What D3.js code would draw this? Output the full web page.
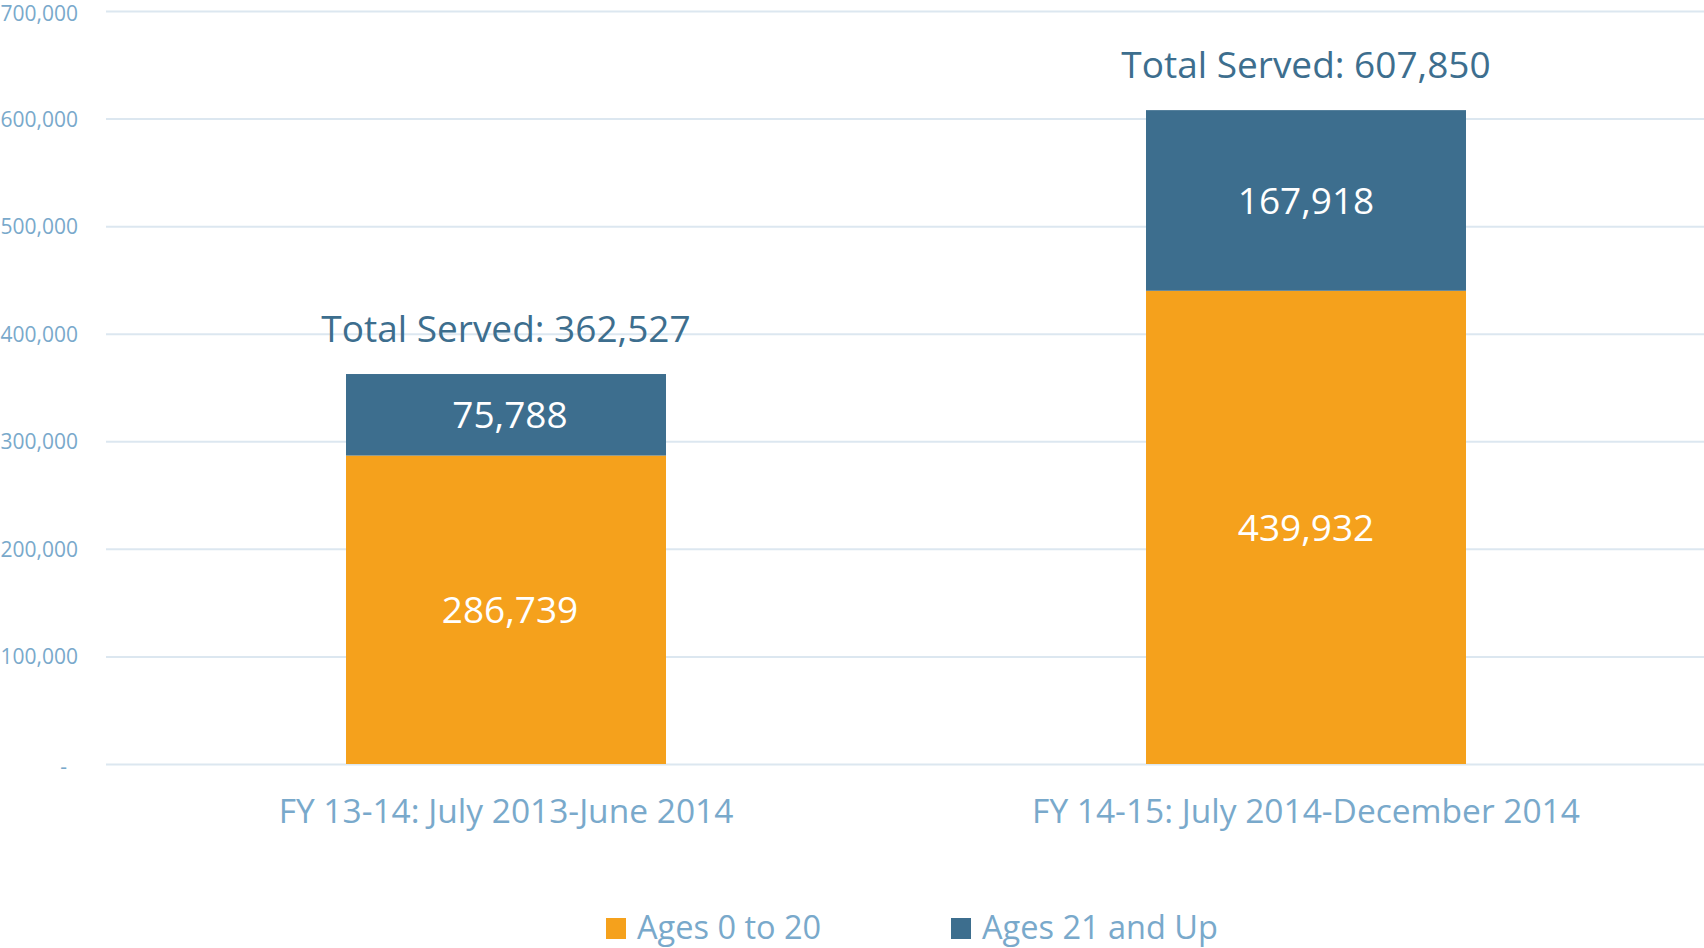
<!DOCTYPE html>
<html>
<head>
<meta charset="utf-8">
<script src="https://cdn.jsdelivr.net/npm/d3@7"></script>
<style>
  html, body { margin: 0; padding: 0; background: #fff; }
  svg { display: block; font-family: "Open Sans", sans-serif; }
</style>
</head>
<body>
<div class="container"></div>
<script>
'use strict';

// Chart values
const periods = ["FY 13-14: July 2013-June 2014", "FY 14-15: July 2014-December 2014"];
const seriesNames = ["Ages 0 to 20", "Ages 21 and Up"];
const youth = [286739, 439932];
const adults = [75788, 167918];
const totals = [362527, 607850];
const yTicks = [0, 100000, 200000, 300000, 400000, 500000, 600000, 700000];

const colors = ["#F5A11C", "#3D6E8E"];
const lightBlue = "#79A9CB";

const width = 1704;
const height = 948;

const svg = d3.select("div.container").append("svg")
    .attr("width", width)
    .attr("height", height);

// Scales
const x = d3.scaleBand()
    .domain(periods)
    .range([106, 1706])
    .paddingInner(0.6)
    .paddingOuter(0.3);

const y = d3.scaleLinear()
    .domain([0, 700000])
    .range([764, 11]);

// Y axis with gridlines
const yAxis = svg.append("g")
    .attr("transform", "translate(106,0)")
    .call(d3.axisLeft(y)
        .tickValues(yTicks)
        .tickSize(-(width - 106))
        .tickPadding(28)
        .tickFormat(d => d === 0 ? "-" : d3.format(",")(d)));

yAxis.select(".domain").remove();
yAxis.selectAll(".tick line")
    .attr("stroke", "#DCE7F0")
    .attr("stroke-width", 2);
yAxis.selectAll(".tick text")
    .attr("fill", lightBlue)
    .attr("dy", "0.36em")
    .style("font-size", "21px")
    .style("font-family", "'Open Sans', sans-serif");
// the top label would poke out of the picture, nudge it down a little
yAxis.selectAll(".tick text").filter(d => d === 700000)
    .attr("dy", "0.45em");
// the zero label is a dash, sitting a bit further left
yAxis.selectAll(".tick text").filter(d => d === 0)
    .attr("dx", "-11px")
    .attr("dy", "0.45em");

// Stack the two series
const rows = periods.map((p, i) => ({ period: p, youth: youth[i], adults: adults[i], total: totals[i] }));
const stack = d3.stack().keys(["youth", "adults"]);
const layers = stack(rows);

const layerG = svg.selectAll("g.layer")
    .data(layers)
    .enter()
    .append("g")
    .attr("class", "layer")
    .attr("fill", (d, i) => colors[i]);

layerG.selectAll("rect")
    .data(d => d)
    .enter()
    .append("rect")
    .attr("x", d => x(d.data.period))
    .attr("width", x.bandwidth())
    .attr("y", d => y(d[1]))
    .attr("height", d => y(d[0]) - y(d[1]));

// Value labels inside segments
layerG.selectAll("text")
    .data(d => d)
    .enter()
    .append("text")
    .attr("x", d => x(d.data.period) + x.bandwidth() / 2)
    .attr("y", d => (y(d[0]) + y(d[1])) / 2)
    .attr("dx", (d, i) => i === 0 ? 4 : 0)
    .attr("dy", "0.36em")
    .attr("text-anchor", "middle")
    .attr("fill", "#fff")
    .style("font-size", "37px")
    .text(d => d3.format(",")(d[1] - d[0]));

// Totals above the bars
svg.selectAll("text.total")
    .data(rows)
    .enter()
    .append("text")
    .attr("class", "total")
    .attr("x", d => x(d.period) + x.bandwidth() / 2)
    .attr("y", d => y(d.total) - 32)
    .attr("text-anchor", "middle")
    .attr("fill", "#3D6E8E")
    .style("font-size", "37px")
    .text(d => "Total Served: " + d3.format(",")(d.total));

// Category labels
svg.selectAll("text.cat")
    .data(periods)
    .enter()
    .append("text")
    .attr("class", "cat")
    .attr("x", d => x(d) + x.bandwidth() / 2)
    .attr("y", 823)
    .attr("text-anchor", "middle")
    .attr("fill", lightBlue)
    .style("font-size", "33.5px")
    .text(d => d);

// Legend
const legendX = [606, 951];
const legend = svg.selectAll("g.legend")
    .data(seriesNames)
    .enter()
    .append("g")
    .attr("class", "legend")
    .attr("transform", (d, i) => "translate(" + legendX[i] + ",918)");

legend.append("rect")
    .attr("width", 20)
    .attr("height", 21)
    .attr("fill", (d, i) => colors[i]);

legend.append("text")
    .attr("x", 31)
    .attr("y", 21)
    .attr("fill", lightBlue)
    .style("font-size", "32.5px")
    .text(d => d);
</script>
</body>
</html>
